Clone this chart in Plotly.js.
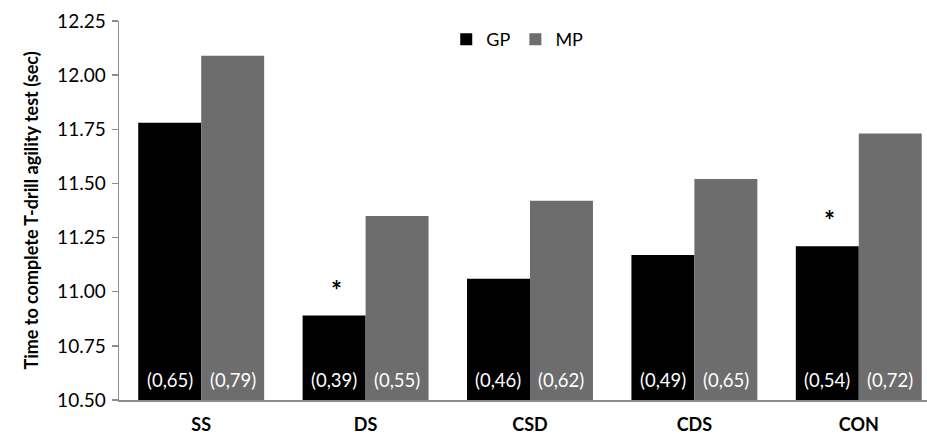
<!DOCTYPE html>
<html>
<head>
<meta charset="utf-8">
<script src="https://cdn.plot.ly/plotly-3.0.1.min.js"></script>
<style>html,body{margin:0;padding:0;background:#fff;}#chart{width:927px;height:437px;}</style>
</head>
<body>
<div id="chart"></div>
<script>
var categories = ['SS', 'DS', 'CSD', 'CDS', 'CON'];
var gpValues = [11.78, 10.89, 11.06, 11.17, 11.21];
var mpValues = [12.09, 11.35, 11.42, 11.52, 11.73];
var gpSD = ['(0,65)', '(0,39)', '(0,46)', '(0,49)', '(0,54)'];
var mpSD = ['(0,79)', '(0,55)', '(0,62)', '(0,65)', '(0,72)'];
var gpSignificant = [false, true, false, false, true];
var yTicks = [10.50, 10.75, 11.00, 11.25, 11.50, 11.75, 12.00, 12.25];

var FONT = 'Lato, "Open Sans", sans-serif';
var barPx = 63;

var traces = [
  {type: 'bar', name: 'GP', x: categories, y: gpValues, marker: {color: '#000000'}, hoverinfo: 'skip'},
  {type: 'bar', name: 'MP', x: categories, y: mpValues, marker: {color: '#6d6d6d'}, hoverinfo: 'skip'}
];

var annotations = [];
categories.forEach(function (c, i) {
  annotations.push({x: i, y: 10.5, xref: 'x', yref: 'y', text: gpSD[i], showarrow: false,
    xshift: -barPx / 2, yshift: 7, yanchor: 'bottom', font: {family: FONT, size: 18.5, color: '#ffffff'}});
  annotations.push({x: i, y: 10.5, xref: 'x', yref: 'y', text: mpSD[i], showarrow: false,
    xshift: barPx / 2, yshift: 7, yanchor: 'bottom', font: {family: FONT, size: 18.5, color: '#ffffff'}});
  if (gpSignificant[i]) {
    annotations.push({x: i, y: gpValues[i], xref: 'x', yref: 'y', text: '<b>*</b>', showarrow: false,
      xshift: -barPx / 2 + 2, yshift: 8, yanchor: 'bottom', font: {family: FONT, size: 26, color: '#000000'}});
  }
});

var layout = {
  width: 927, height: 437,
  margin: {l: 119, r: 0, t: 21, b: 37, pad: 0},
  paper_bgcolor: '#ffffff', plot_bgcolor: '#ffffff',
  barmode: 'group', bargap: 0.234, bargroupgap: 0,
  font: {family: FONT, color: '#000000'},
  showlegend: true,
  legend: {orientation: 'h', x: 0.405, y: 1.0, xanchor: 'left', yanchor: 'top',
    font: {family: FONT, size: 18, color: '#000'}, itemwidth: 30, bgcolor: 'rgba(0,0,0,0)'},
  xaxis: {type: 'category', range: [-0.5, 4.415], showgrid: false, zeroline: false,
    showline: true, linecolor: '#8c8c8c', linewidth: 1.5, ticks: '',
    tickfont: {family: FONT, size: 18, color: '#000', weight: 'bold'}, ticklabelstandoff: 8},
  yaxis: {range: [10.5, 12.25], tickvals: yTicks, ticktext: yTicks.map(function (v) { return v.toFixed(2); }),
    showgrid: false, zeroline: false, showline: true, linecolor: '#8c8c8c', linewidth: 1.5,
    ticks: 'outside', ticklen: 6, tickcolor: '#8c8c8c', tickwidth: 1.5, ticklabelstandoff: 2,
    tickfont: {family: FONT, size: 19, color: '#000'},
    title: {text: 'Time to complete T-drill agility test (sec)', standoff: 14,
      font: {family: FONT, size: 18, color: '#000', weight: 'bold'}}},
  annotations: annotations
};

Plotly.newPlot('chart', traces, layout, {displayModeBar: false, staticPlot: true});
</script>
</body>
</html>
